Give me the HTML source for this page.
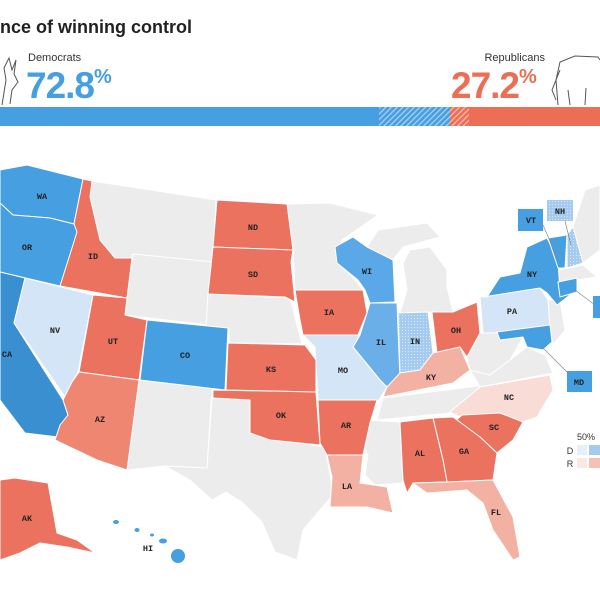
<!DOCTYPE html>
<html><head><meta charset="utf-8"><style>
body{margin:0;background:#fff;width:600px;height:600px;overflow:hidden;font-family:"Liberation Sans",sans-serif}
</style></head><body>
<svg width="600" height="600" viewBox="0 0 600 600" xmlns="http://www.w3.org/2000/svg">
<defs>
<pattern id="hb" width="4" height="4" patternUnits="userSpaceOnUse" patternTransform="rotate(45)"><rect width="4" height="4" fill="#459fe0"/><rect width="1.3" height="4" fill="#a9d0f2"/></pattern>
<pattern id="hr" width="4" height="4" patternUnits="userSpaceOnUse" patternTransform="rotate(45)"><rect width="4" height="4" fill="#ec6e55"/><rect width="1.3" height="4" fill="#f7b9ab"/></pattern>
<pattern id="dotb" width="3" height="3" patternUnits="userSpaceOnUse"><rect width="3" height="3" fill="#a6cbf1"/><rect width="1" height="1" fill="#d8e8f9"/></pattern>
</defs>
<text x="0" y="33" font-size="18" font-weight="bold" fill="#222">nce of winning control</text>
<text x="28" y="61" font-size="11" fill="#333">Democrats</text>
<text x="26" y="98" font-size="37" font-weight="bold" fill="#459fe0" letter-spacing="-1">72.8<tspan font-size="20" dy="-15">%</tspan></text>
<text x="545" y="61" font-size="11" fill="#333" text-anchor="end">Republicans</text>
<text x="451" y="98" font-size="37" font-weight="bold" fill="#ec6e55" letter-spacing="-1">27.2<tspan font-size="20" dy="-15">%</tspan></text>
<!-- donkey / elephant sketches -->
<path d="M2,105 L6,80 L4,68 L9,58 L12,70 L16,60 L14,74 L18,82 L12,90 L10,104" fill="none" stroke="#555" stroke-width="1"/>
<path d="M558,105 L556,80 L560,62 L575,56 L598,57 L600,60 M560,70 L552,90 L556,100 M570,105 L568,90 M585,105 L586,88" fill="none" stroke="#555" stroke-width="1"/>
<rect x="0" y="107" width="379" height="19" fill="#459fe0"/>
<rect x="379" y="107" width="71" height="19" fill="url(#hb)"/>
<rect x="450" y="107" width="19" height="19" fill="url(#hr)"/>
<rect x="469" y="107" width="131" height="19" fill="#ec6e55"/>

<g stroke="#fff" stroke-width="1" stroke-linejoin="round">
<!-- gray states -->
<polygon fill="#ececec" points="92,181 216,200 213,262 133,254 132,258 115,258 100,240 90,197"/>
<polygon fill="#ececec" points="133,254 213,262 208,325 125,315 127,298"/>
<polygon fill="#ececec" points="208,294 290,298 302,344 229,343 229,329 206,326"/>
<polygon fill="#ececec" points="138,380 212,388 207,468 165,466 127,470"/>
<polygon fill="#ececec" points="212,398 250,400 250,433 300,443 325,447 330,475 333,495 320,510 303,530 297,560 275,552 262,522 242,502 226,492 212,500 190,480 165,466 207,468"/>
<polygon fill="#ececec" points="287,204 330,203 378,215 342,240 337,262 355,280 363,290 295,290 293,250"/>
<polygon fill="#ececec" points="410,250 430,247 447,270 447,287 453,312 400,313 407,290 403,263"/>
<polygon fill="#ececec" points="378,230 427,223 440,237 403,247 393,260 367,247"/>
<polygon fill="#ececec" points="383,398 525,380 500,400 450,413 377,420"/>
<polygon fill="#ececec" points="367,420 400,422 403,483 375,485 365,475 368,455 360,440"/>
<polygon fill="#ececec" points="480,333 497,332 500,340 523,337 510,360 490,375 470,370 467,357"/>
<polygon fill="#ececec" points="470,370 490,375 510,360 527,347 545,355 553,373 480,387"/>
<polygon fill="#ececec" points="548,300 560,300 565,330 553,345 550,330"/>
<polygon fill="#ececec" points="573,227 585,190 600,185 600,250 583,263"/>
<polygon fill="#ececec" points="558,270 583,265 597,277 577,280 558,282"/>
<!-- blue -->
<polygon fill="#459fe0" points="0,170 27,165 83,179 74,224 50,218 13,215 0,203"/>
<polygon fill="#459fe0" points="0,203 13,215 50,218 74,224 78,232 60,286 0,272"/>
<polygon fill="#3a8fd0" points="0,272 25,278 14,323 63,400 68,415 58,437 25,433 0,400"/>
<polygon fill="#d4e5f8" points="25,278 93,295 78,372 72,382 65,397 14,323"/>
<polygon fill="#459fe0" points="147,320 228,328 225,390 140,380"/>
<polygon fill="#5aa8e8" points="335,247 353,237 367,247 393,260 395,302 370,303 365,290 358,280 337,263"/>
<polygon fill="#6aafe8" points="370,303 397,303 400,380 387,387 380,380 353,347 360,335 367,313"/>
<polygon fill="url(#dotb)" points="398,313 428,312 433,353 420,370 400,373"/>
<polygon fill="#d4e5f8" points="303,335 360,335 353,347 380,380 387,387 377,403 318,400 315,347"/>
<polygon fill="#d4e5f8" points="480,297 540,288 548,300 550,327 493,333 483,333"/>
<polygon fill="#459fe0" points="487,297 500,277 520,273 527,247 547,238 558,260 560,293 570,295 557,305 547,293 540,288 483,297"/>
<polygon fill="#459fe0" points="548,238 567,235 565,268 558,268"/>
<polygon fill="url(#dotb)" points="567,235 573,227 583,263 567,268"/>
<polygon fill="#459fe0" points="558,282 577,278 577,292 560,297"/>
<polygon fill="#459fe0" points="497,332 550,325 552,342 543,350 527,347 523,337 500,340"/>
<!-- red -->
<polygon fill="#ec7260" points="83,179 92,181 90,197 100,240 115,258 132,258 127,298 60,286 77,232 74,224"/>
<polygon fill="#ec7260" points="93,295 127,298 125,315 147,320 139,380 79,372"/>
<polygon fill="#ef8672" points="79,372 139,380 127,470 97,460 55,440 60,425 68,415 63,400 72,382"/>
<polygon fill="#ec7260" points="217,200 287,204 293,250 213,247"/>
<polygon fill="#ec7260" points="213,247 293,250 291,262 295,302 285,297 208,294"/>
<polygon fill="#ec7260" points="228,343 305,345 316,360 316,392 226,390"/>
<polygon fill="#ec7260" points="213,390 316,392 320,445 300,443 270,440 250,433 250,400 213,398"/>
<polygon fill="#ec7260" points="295,290 363,290 367,313 358,335 303,335 300,320"/>
<polygon fill="#ec7260" points="432,312 453,312 477,302 480,333 467,357 460,347 437,353"/>
<polygon fill="#f3b1a3" points="387,387 400,373 420,370 433,353 460,347 470,370 453,383 383,397"/>
<polygon fill="#ec7260" points="318,400 377,400 370,423 363,455 327,455 320,443"/>
<polygon fill="#f3b1a3" points="327,455 363,455 360,483 387,487 393,513 367,507 330,507 332,477"/>
<polygon fill="#f9dcd5" points="450,412 480,387 550,375 553,390 537,417 523,422 500,413 460,417"/>
<polygon fill="#ec7260" points="462,415 500,413 523,422 513,440 497,453 480,437 453,423"/>
<polygon fill="#ec7260" points="433,418 453,417 480,437 497,453 493,480 447,482 443,460"/>
<polygon fill="#ec7260" points="400,422 433,418 443,460 447,482 413,483 407,493 403,480"/>
<polygon fill="#f3b1a3" points="413,483 447,482 493,480 513,517 520,557 513,560 493,530 483,503 467,490 427,493"/>
<polygon fill="#ec7260" points="0,480 15,478 48,483 57,533 77,540 95,553 67,547 40,543 20,553 0,560"/>
</g>
<!-- HI -->
<g fill="#459fe0">
<ellipse cx="116" cy="522" rx="3" ry="2"/><ellipse cx="137" cy="530" rx="2.5" ry="2"/><ellipse cx="152" cy="535" rx="2" ry="1.5"/><ellipse cx="163" cy="541" rx="4" ry="2.5"/><ellipse cx="178" cy="556" rx="7" ry="7"/>
</g>
<!-- callouts -->
<g stroke="#888" stroke-width="0.7">
<line x1="543" y1="225" x2="557" y2="257"/><line x1="565" y1="221" x2="571" y2="245"/><line x1="575" y1="290" x2="595" y2="305"/><line x1="540" y1="345" x2="570" y2="375"/>
</g>
<rect x="518" y="209" width="25" height="22" fill="#459fe0"/>
<rect x="547" y="200" width="26" height="21" fill="url(#dotb)"/>
<rect x="567" y="371" width="25" height="21" fill="#459fe0"/>
<rect x="593" y="296" width="7" height="22" fill="#459fe0"/>
<g font-family="Liberation Mono, monospace" font-size="8.5" fill="#222" text-anchor="middle" font-weight="bold">
<text x="42" y="199">WA</text><text x="27" y="250">OR</text><text x="7" y="357">CA</text><text x="55" y="333">NV</text><text x="93" y="259">ID</text><text x="113" y="344">UT</text><text x="100" y="422">AZ</text><text x="185" y="358">CO</text><text x="253" y="230">ND</text><text x="253" y="277">SD</text><text x="271" y="372">KS</text><text x="281" y="418">OK</text><text x="329" y="315">IA</text><text x="367" y="274">WI</text><text x="381" y="345">IL</text><text x="415" y="344">IN</text><text x="456" y="333">OH</text><text x="343" y="373">MO</text><text x="431" y="380">KY</text><text x="346" y="428">AR</text><text x="347" y="489">LA</text><text x="420" y="456">AL</text><text x="464" y="454">GA</text><text x="494" y="430">SC</text><text x="509" y="400">NC</text><text x="496" y="515">FL</text><text x="512" y="314">PA</text><text x="532" y="277">NY</text><text x="27" y="521">AK</text><text x="148" y="551">HI</text><text x="531" y="223">VT</text><text x="560" y="214">NH</text><text x="579" y="385">MD</text>
</g>
<text x="586" y="440" font-size="9" fill="#333" text-anchor="middle">50%</text>
<text x="570" y="454" font-size="9" fill="#333" text-anchor="middle">D</text>
<text x="570" y="467" font-size="9" fill="#333" text-anchor="middle">R</text>
<rect x="577" y="445" width="10" height="10" fill="#e6f0fb"/><rect x="589" y="445" width="11" height="10" fill="#a6cbf1"/>
<rect x="577" y="458" width="10" height="10" fill="#fbe8e3"/><rect x="589" y="458" width="11" height="10" fill="#f5c1b5"/>
</svg>
</body></html>
